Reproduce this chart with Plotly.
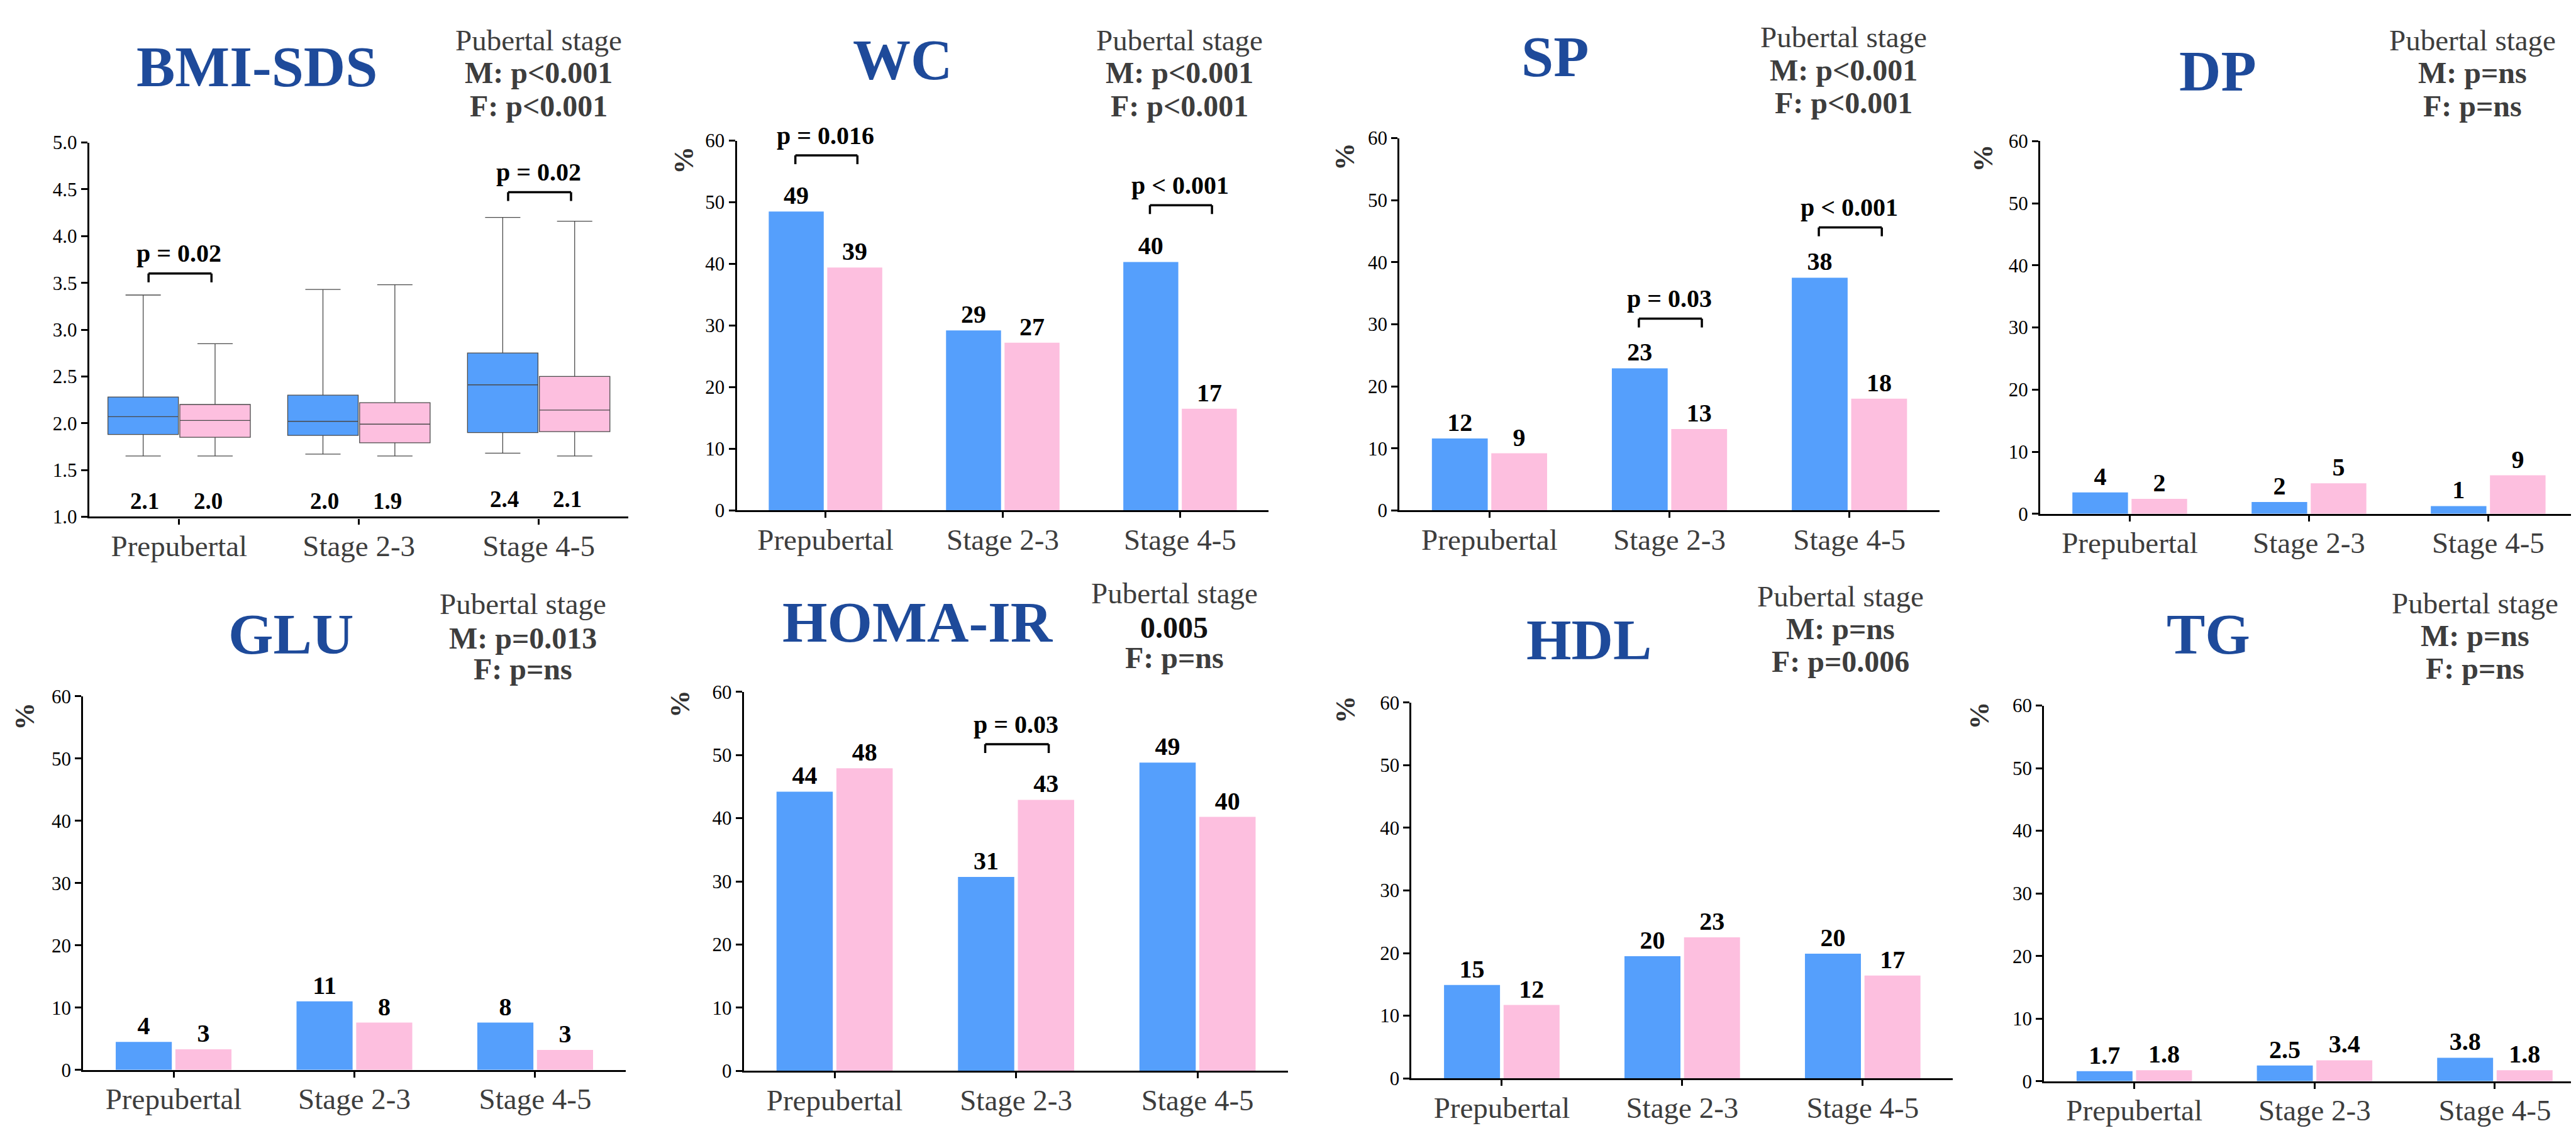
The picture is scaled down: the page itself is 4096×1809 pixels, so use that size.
import plotly.graph_objects as go

REF_W, REF_H = 5139, 2270
FIG_W, FIG_H = 4096, 1809
S = FIG_W / REF_W
BODY_MARGIN = 8  # default page margin of the html body, compensated here

categories = ["Prepubertal", "Stage 2-3", "Stage 4-5"]

# ---- BMI-SDS box statistics ----
bmi_m_upper = [3.37, 3.43, 4.20]
bmi_m_q3 = [2.28, 2.30, 2.75]
bmi_m_median = [2.07, 2.02, 2.41]
bmi_m_q1 = [1.88, 1.87, 1.90]
bmi_m_lower = [1.65, 1.67, 1.68]
bmi_f_upper = [2.85, 3.48, 4.16]
bmi_f_q3 = [2.20, 2.22, 2.50]
bmi_f_median = [2.03, 1.99, 2.14]
bmi_f_q1 = [1.85, 1.79, 1.91]
bmi_f_lower = [1.65, 1.65, 1.65]
bmi_m_labels = ["2.1", "2.0", "2.4"]
bmi_f_labels = ["2.0", "1.9", "2.1"]
bmi_label_y = [1.17, 1.17, 1.19]

# ---- Percentage bar panels ----
wc_m = [48.5, 29.2, 40.3]
wc_f = [39.4, 27.2, 16.5]
wc_m_lbl = ["49", "29", "40"]
wc_f_lbl = ["39", "27", "17"]

sp_m = [11.6, 22.9, 37.5]
sp_f = [9.2, 13.1, 18.0]
sp_m_lbl = ["12", "23", "38"]
sp_f_lbl = ["9", "13", "18"]

dp_m = [3.45, 1.9, 1.25]
dp_f = [2.4, 4.9, 6.2]
dp_m_lbl = ["4", "2", "1"]
dp_f_lbl = ["2", "5", "9"]

glu_m = [4.5, 11.0, 7.6]
glu_f = [3.3, 7.6, 3.2]
glu_m_lbl = ["4", "11", "8"]
glu_f_lbl = ["3", "8", "3"]

homa_m = [44.2, 30.7, 48.8]
homa_f = [47.9, 42.9, 40.2]
homa_m_lbl = ["44", "31", "49"]
homa_f_lbl = ["48", "43", "40"]

hdl_m = [14.9, 19.5, 19.9]
hdl_f = [11.7, 22.5, 16.4]
hdl_m_lbl = ["15", "20", "20"]
hdl_f_lbl = ["12", "23", "17"]

tg_m = [1.6, 2.5, 3.75]
tg_f = [1.75, 3.35, 1.75]
tg_m_lbl = ["1.7", "2.5", "3.8"]
tg_f_lbl = ["1.8", "3.4", "1.8"]

titles = ["BMI-SDS", "WC", "SP", "DP", "GLU", "HOMA-IR", "HDL", "TG"]
stat_m = ["M: p<0.001", "M: p<0.001", "M: p<0.001", "M: p=ns",
          "M: p=0.013", "0.005", "M: p=ns", "M: p=ns"]
stat_f = ["F: p<0.001", "F: p<0.001", "F: p<0.001", "F: p=ns",
          "F: p=ns", "F: p=ns", "F: p=0.006", "F: p=ns"]

# significance brackets: (panel, category index, bracket level, label)
brackets = [
    (1, 0, 3.60, "p = 0.02"),
    (1, 2, 4.47, "p = 0.02"),
    (2, 0, 57.6, "p = 0.016"),
    (2, 2, 49.5, "p < 0.001"),
    (3, 1, 30.9, "p = 0.03"),
    (3, 2, 45.6, "p < 0.001"),
    (6, 1, 51.7, "p = 0.03"),
]

# ---- layout geometry (reference pixels) ----
# panel: (axis left, axis right, axis top, axis bottom, x range max)
geom = {
    1: (178, 1254, 268, 1029, 2.5),
    2: (1470, 2531, 264, 1016, 2.5),
    3: (2792, 3869, 259, 1016, 2.5),
    4: (4070, 5139, 265, 1023, 2.49),
    5: (166, 1248, 1394, 2154, 2.5),
    6: (1484, 2570, 1385, 2156, 2.5),
    7: (2816, 3896, 1407, 2171, 2.5),
    8: (4078, 5139, 1413, 2177, 2.45),
}
title_pos = {1: (512, 114), 2: (1801, 99), 3: (3102, 93), 4: (4425, 122),
             5: (580, 1268), 6: (1831, 1243), 7: (3170, 1279), 8: (4406, 1268)}
stat_pos = {1: (1074, 60, 126, 194), 2: (2353, 60, 126, 194), 3: (3678, 54, 121, 187),
            4: (4933, 60, 126, 194), 5: (1043, 1206, 1276, 1339),
            6: (2343, 1184, 1254, 1316), 7: (3672, 1191, 1257, 1323),
            8: (4938, 1205, 1271, 1337)}
pct_pos = {2: (1365, 304), 3: (2683, 296), 4: (3957, 300), 5: (50, 1435),
           6: (1356, 1410), 7: (2685, 1421), 8: (3949, 1434)}


def px(x):
    return min(1.0, max(0.0, (x * S - BODY_MARGIN) / FIG_W))


def py(y):
    return 1 - (y * S - BODY_MARGIN) / FIG_H


SERIF = "Liberation Serif, Times New Roman, serif"
BLUE = "#559FFC"
PINK = "#FDBFDF"
TITLE_BLUE = "#1E4A9A"
GRAY = "#3D3D3D"

fig = go.Figure()

# Box plot panel
common_box = dict(boxpoints=False, whiskerwidth=0.5, line=dict(color="#4a4a4a", width=1.3),
                  xaxis="x", yaxis="y", showlegend=False, hoverinfo="skip")
fig.add_trace(go.Box(x=categories, q1=bmi_m_q1, median=bmi_m_median, q3=bmi_m_q3,
                     lowerfence=bmi_m_lower, upperfence=bmi_m_upper, fillcolor=BLUE,
                     name="M", **common_box))
fig.add_trace(go.Box(x=categories, q1=bmi_f_q1, median=bmi_f_median, q3=bmi_f_q3,
                     lowerfence=bmi_f_lower, upperfence=bmi_f_upper, fillcolor=PINK,
                     name="F", **common_box))

bar_panels = {
    2: (wc_m, wc_f, wc_m_lbl, wc_f_lbl),
    3: (sp_m, sp_f, sp_m_lbl, sp_f_lbl),
    4: (dp_m, dp_f, dp_m_lbl, dp_f_lbl),
    5: (glu_m, glu_f, glu_m_lbl, glu_f_lbl),
    6: (homa_m, homa_f, homa_m_lbl, homa_f_lbl),
    7: (hdl_m, hdl_f, hdl_m_lbl, hdl_f_lbl),
    8: (tg_m, tg_f, tg_m_lbl, tg_f_lbl),
}
lbl_font = dict(family=SERIF, size=40, color="black", weight="bold")
for n, (m, f, ml, fl) in bar_panels.items():
    for vals, lbls, col, nm in ((m, ml, BLUE, "M"), (f, fl, PINK, "F")):
        fig.add_trace(go.Bar(x=categories, y=vals, text=lbls, textposition="outside",
                             textfont=lbl_font, marker=dict(color=col, line=dict(width=0)),
                             cliponaxis=False, name=nm, showlegend=False,
                             xaxis=f"x{n}", yaxis=f"y{n}", hoverinfo="skip"))

layout = dict(
    width=FIG_W, height=FIG_H, margin=dict(l=0, r=0, t=0, b=0),
    paper_bgcolor="white", plot_bgcolor="white",
    barmode="group", bargap=0.34, bargroupgap=0.06,
    boxmode="group", boxgap=0.2, boxgroupgap=0.02,
    showlegend=False, font=dict(family=SERIF),
)

annotations = []
shapes = []

for n, (l, r, t, b, xr) in geom.items():
    sx = "" if n == 1 else str(n)
    layout[f"xaxis{sx}"] = dict(
        domain=[px(l), px(r)], anchor=f"y{sx}", type="category",
        categoryorder="array", categoryarray=categories, range=[-0.5, xr],
        showline=True, linewidth=3.2, linecolor="black", ticks="outside",
        ticklen=9, tickwidth=3, tickcolor="black", showgrid=False, zeroline=False,
        tickfont=dict(family=SERIF, size=47, color=GRAY), ticklabelstandoff=-6,
        fixedrange=True,
    )
    if n == 1:
        yax = dict(range=[1, 5], tickvals=[1, 1.5, 2, 2.5, 3, 3.5, 4, 4.5, 5], tickformat=".1f")
    else:
        yax = dict(range=[0, 60], tickvals=[0, 10, 20, 30, 40, 50, 60])
    yax.update(domain=[py(b), py(t)], anchor=f"x{sx}", showline=True, linewidth=3.2,
               linecolor="black", ticks="outside", ticklen=10, tickwidth=3,
               tickcolor="black", showgrid=False, zeroline=False,
               tickfont=dict(family=SERIF, size=31, color="black"), fixedrange=True)
    layout[f"yaxis{sx}"] = yax

    # title
    tx, ty = title_pos[n]
    annotations.append(dict(text=titles[n - 1], x=px(tx), y=py(ty), xref="paper", yref="paper",
                            xanchor="center", yanchor="middle", showarrow=False,
                            font=dict(family=SERIF, size=92, color=TITLE_BLUE, weight="bold")))
    # pubertal stage statistics
    cx, y1, y2, y3 = stat_pos[n]
    annotations.append(dict(text="Pubertal stage", x=px(cx), y=py(y1), xref="paper", yref="paper",
                            xanchor="center", yanchor="middle", showarrow=False,
                            font=dict(family=SERIF, size=47, color=GRAY)))
    mcol = "#111111" if n == 6 else GRAY
    annotations.append(dict(text=stat_m[n - 1], x=px(cx), y=py(y2), xref="paper", yref="paper",
                            xanchor="center", yanchor="middle", showarrow=False,
                            font=dict(family=SERIF, size=48, color=mcol, weight="bold")))
    annotations.append(dict(text=stat_f[n - 1], x=px(cx), y=py(y3), xref="paper", yref="paper",
                            xanchor="center", yanchor="middle", showarrow=False,
                            font=dict(family=SERIF, size=48, color=GRAY, weight="bold")))
    if n in pct_pos:
        qx, qy = pct_pos[n]
        annotations.append(dict(text="%", x=px(qx), y=py(qy), xref="paper", yref="paper",
                                xanchor="center", yanchor="middle", showarrow=False, textangle=-90,
                                font=dict(family=SERIF, size=44, color="#333333", weight="bold")))

# BMI value labels under boxes
for i, c in enumerate(categories):
    annotations.append(dict(text=bmi_m_labels[i], x=i - 0.19, y=bmi_label_y[i], xref="x", yref="y",
                            showarrow=False, xanchor="center", yanchor="middle",
                            font=dict(family=SERIF, size=37, color="black", weight="bold")))
    annotations.append(dict(text=bmi_f_labels[i], x=i + 0.16, y=bmi_label_y[i], xref="x", yref="y",
                            showarrow=False, xanchor="center", yanchor="middle",
                            font=dict(family=SERIF, size=37, color="black", weight="bold")))

# significance brackets
for n, ci, lev, lab in brackets:
    sx = "" if n == 1 else str(n)
    xr_, yr_ = f"x{sx}", f"y{sx}"
    x0, x1 = ci - 0.17, ci + 0.18
    ln = dict(color="black", width=3.5)
    shapes.append(dict(type="line", xref=xr_, yref=yr_, x0=x0, x1=x1, y0=lev, y1=lev, line=ln))
    for xx in (x0, x1):
        shapes.append(dict(type="line", xref=xr_, yref=yr_, x0=xx, x1=xx, ysizemode="pixel",
                           yanchor=lev, y0=0, y1=-14, line=ln))
    annotations.append(dict(text=lab, x=ci, y=lev, xref=xr_, yref=yr_, yshift=32,
                            showarrow=False, xanchor="center", yanchor="middle",
                            font=dict(family=SERIF, size=40, color="black", weight="bold")))

layout["annotations"] = annotations
layout["shapes"] = shapes
fig.update_layout(**layout)

fig.write_html("out.html")
